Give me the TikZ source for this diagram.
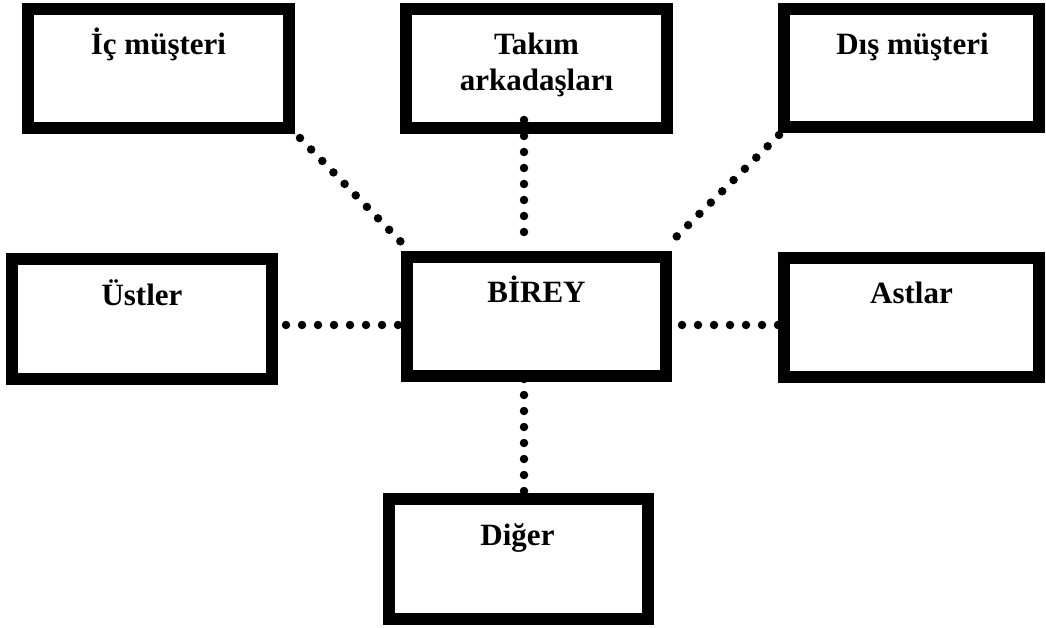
\documentclass[tikz,border=0pt]{standalone}
\usepackage{fontspec}
\setmainfont{Liberation Serif}
\usetikzlibrary{calc}
\tikzset{
  boxnode/.style={draw=black, line width=12pt, fill=white, inner sep=0pt},
  labeltext/.style={font=\bfseries\fontsize{31}{36}\selectfont, inner sep=0pt, anchor=base, align=center},
  dotline/.style={line width=8.5pt, line cap=round, dash pattern=on 0pt off 16pt}
}
\begin{document}
\begin{tikzpicture}[x=1pt,y=-1pt]
\useasboundingbox[fill=white] (0,0) rectangle (1046,628);
% boxes (outer size = minimum size + line width)
\node[boxnode, minimum width=261pt, minimum height=119pt] (ic) at (158.5,68.5) {};
\node[boxnode, minimum width=261pt, minimum height=119pt] (takim) at (536.5,68.5) {};
\node[boxnode, minimum width=255pt, minimum height=118pt] (dis) at (911.5,68) {};
\node[boxnode, minimum width=260pt, minimum height=120pt] (ustler) at (142,319) {};
\node[boxnode, minimum width=259pt, minimum height=119pt] (birey) at (536.5,316.5) {};
\node[boxnode, minimum width=255pt, minimum height=119pt] (astlar) at (911.5,317.5) {};
\node[boxnode, minimum width=259pt, minimum height=120pt] (diger) at (518.5,559) {};
% labels
\node[labeltext] (icT) at ($(ic.north)+(0,52)$) {İç müşteri};
\node[labeltext] (takimT) at ($(takim.north)+(0,88)$) {Takım\\arkadaşları};
\node[labeltext] (disT) at ($(dis.north)+(1,52)$) {Dış müşteri};
\node[labeltext] (ustlerT) at ($(ustler.north)+(0,52)$) {Üstler};
\node[labeltext] (bireyT) at ($(birey.north)+(0,51)$) {BİREY};
\node[labeltext] (astlarT) at ($(astlar.north)+(0,51)$) {Astlar};
\node[labeltext] (digerT) at ($(diger.north)+(-1,52)$) {Diğer};
% connector guides
\coordinate (vx) at (524,0);
\coordinate (hy) at (0,325);
% connectors
\draw[dotline] ($(ic.south east)+(5,4)$) -- ($(birey.north west)+(0.5,-8.5)$);
\draw[dotline] ($(dis.south west)+(1,2)$) -- ($(birey.north east)+(-6.5,-3.5)$);
\draw[dotline] ($(takim.south -| vx)+(0,-14)$) -- ($(birey.north -| vx)+(0,-17.5)$);
\draw[dotline] ($(birey.south -| vx)+(0,-3)$) -- ($(diger.north -| vx)+(0,-1.5)$);
\draw[dotline] ($(ustler.east |- hy)+(8,0)$) -- ($(birey.west |- hy)+(-2.5,0)$);
\draw[dotline] ($(birey.east |- hy)+(10,0)$) -- ($(astlar.west |- hy)+(0.5,0)$);
\end{tikzpicture}
\end{document}
